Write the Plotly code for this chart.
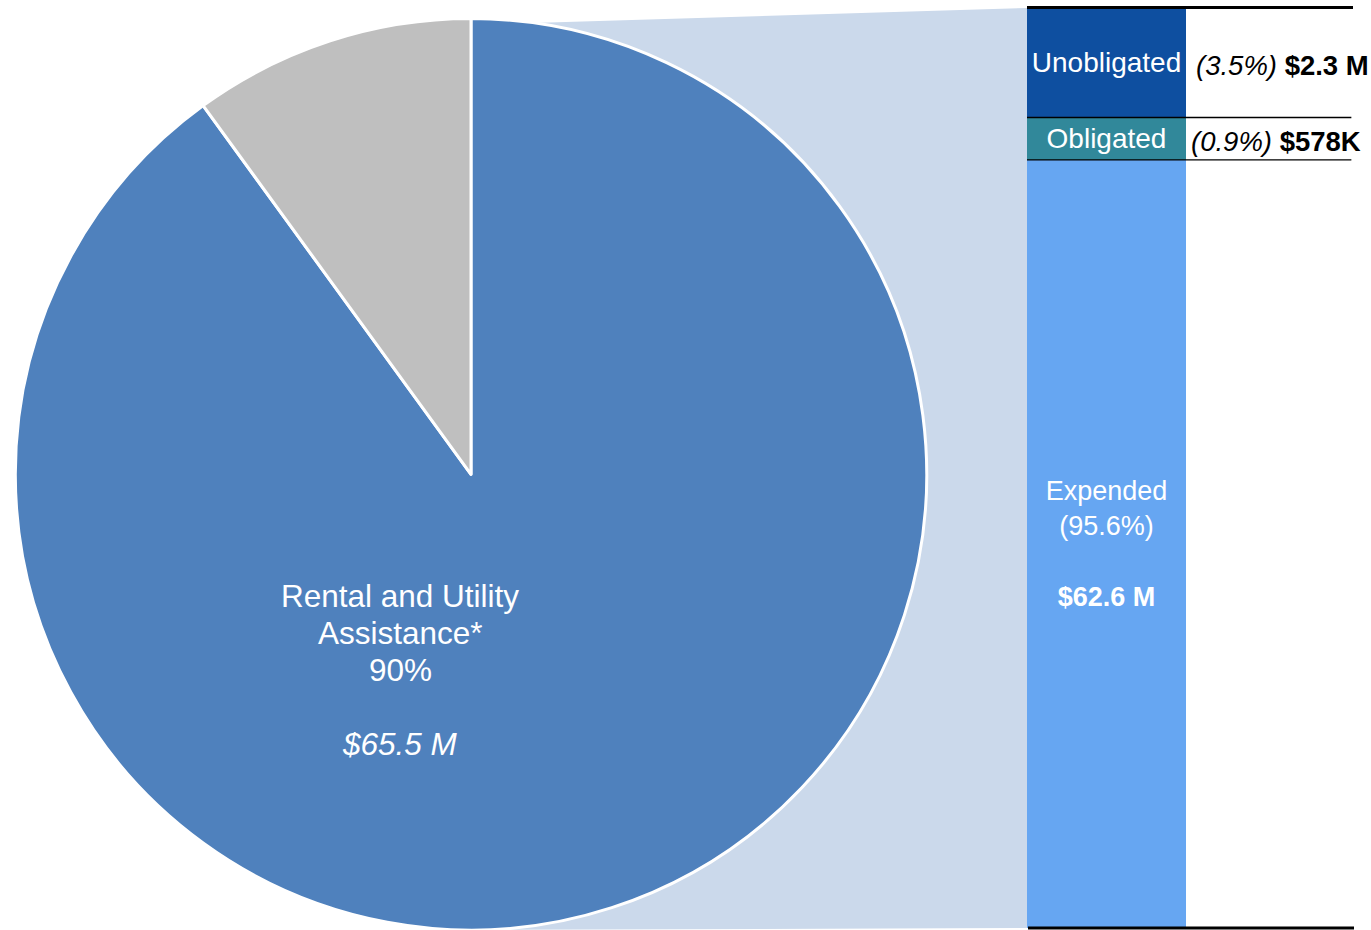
import plotly.graph_objects as go

# ---- data ----
pie_labels = ["Rental and Utility Assistance*", "Other"]
pie_values = [90, 10]
pie_colors = ["#4F81BD", "#BFBFBF"]
pie_amount = "$65.5 M"

bar_segments = ["Expended", "Obligated", "Unobligated"]
bar_pct = ["95.6%", "0.9%", "3.5%"]
bar_amounts = ["$62.6 M", "$578K", "$2.3 M"]
bar_display = [83.5, 4.6, 11.9]   # drawn (non-proportional) heights
bar_colors = ["#66A6F2", "#31889A", "#0E4FA0"]

FONT = "Liberation Sans, Arial, sans-serif"
W, H = 1371, 930

fig = go.Figure()

# connector polygon (behind pie)
bar_x0, bar_x1 = 1027 / W, 1186 / W
pie_cx = 471 / W
fig.add_shape(type="path", xref="paper", yref="paper", layer="below",
              path=f"M {pie_cx},{1-25/H} L {bar_x0},{1-8/H} L {bar_x0},{2/H} L {pie_cx},0 Z",
              fillcolor="#CBD9EB", line=dict(width=0))

fig.add_trace(go.Pie(
    labels=pie_labels, values=pie_values, sort=False, direction="clockwise",
    rotation=0, marker=dict(colors=pie_colors, line=dict(color="white", width=3)),
    textinfo="none", hoverinfo="skip", showlegend=False,
    domain=dict(x=[11 / W, 931 / W], y=[0, 0.98]),
))

# pie label, one annotation per line to control spacing
pie_lines = ["Rental and Utility", "Assistance*", f"{pie_values[0]}%", f"<i>{pie_amount}</i>"]
pie_line_y = [596, 633, 670, 744]
for txt, yy in zip(pie_lines, pie_line_y):
    fig.add_annotation(
        xref="paper", yref="paper", x=400 / W, y=1 - yy / H, xanchor="center", yanchor="middle",
        text=txt, showarrow=False, font=dict(family=FONT, size=31.5, color="white"))

# stacked bar
texts = [
    f"{bar_segments[0]}<br>({bar_pct[0]})<br><br><b>{bar_amounts[0]}</b>",
    bar_segments[1],
    bar_segments[2],
]
sizes = [27, 28, 28]
for i in range(3):
    fig.add_trace(go.Bar(
        x=[0], y=[bar_display[i]], marker=dict(color=bar_colors[i], line=dict(width=0)),
        text=[texts[i]], textposition="inside", insidetextanchor="middle",
        constraintext="none", textfont=dict(family=FONT, size=sizes[i], color="white"),
        hoverinfo="skip", showlegend=False, width=1))

total = sum(bar_display)
cum = [0]
for v in bar_display:
    cum.append(cum[-1] + v)

# top / bottom rules (paper coords so they are not clipped)
fig.add_shape(type="line", xref="paper", yref="paper", x0=1027 / W, x1=1353 / W,
              y0=1 - 7.5 / H, y1=1 - 7.5 / H, line=dict(color="black", width=3))
fig.add_shape(type="line", xref="paper", yref="paper", x0=1028 / W, x1=1354 / W,
              y0=1 - 928 / H, y1=1 - 928 / H, line=dict(color="black", width=3))
# segment boundary rules
fig.add_shape(type="line", xref="x domain", yref="y", x0=0, x1=2.04, y0=cum[2], y1=cum[2],
              line=dict(color="black", width=1.3))
fig.add_shape(type="line", xref="x domain", yref="y", x0=0, x1=2.04, y0=cum[1], y1=cum[1],
              line=dict(color="black", width=1.3))

# right labels
fig.add_annotation(xref="x domain", yref="y", x=1.05, y=(cum[2] + cum[3]) / 2, yshift=-3,
                   xanchor="left", yanchor="middle", showarrow=False,
                   text=f"<i>({bar_pct[2]})</i> <b>{bar_amounts[2]}</b>",
                   font=dict(family=FONT, size=27.5, color="black"))
fig.add_annotation(xref="x domain", yref="y", x=1.02, y=(cum[1] + cum[2]) / 2, yshift=-3,
                   xanchor="left", yanchor="middle", showarrow=False,
                   text=f"<i>({bar_pct[1]})</i> <b>{bar_amounts[1]}</b>",
                   font=dict(family=FONT, size=27.5, color="black"))

fig.update_layout(
    width=W, height=H, margin=dict(l=0, r=0, t=0, b=0),
    paper_bgcolor="white", plot_bgcolor="rgba(0,0,0,0)",
    barmode="stack", bargap=0,
    xaxis=dict(domain=[bar_x0, bar_x1], range=[-0.5, 0.5], visible=False, fixedrange=True),
    yaxis=dict(domain=[2 / H, 1 - 8 / H], range=[0, total], visible=False, fixedrange=True),
    font=dict(family=FONT),
)

fig.write_html("out.html", config={"displayModeBar": False},
               post_script="document.body.style.margin='0';document.body.style.overflow='hidden';")
